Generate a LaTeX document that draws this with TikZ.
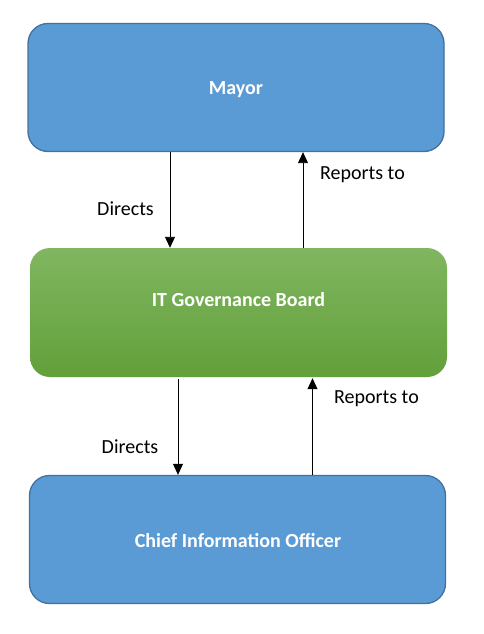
\documentclass[tikz,border=0pt]{standalone}
\usepackage{fontspec}
\setmainfont{Carlito}
\usetikzlibrary{arrows.meta}
\definecolor{boxblue}{HTML}{5B9BD5}
\definecolor{boxedge}{HTML}{41719C}
\definecolor{gtop}{HTML}{80B660}
\definecolor{gbot}{HTML}{62A03A}
\begin{document}
\begin{tikzpicture}[x=1pt,y=1pt,
  bluebox/.style={draw=boxedge,line width=1.3pt,fill=boxblue,rounded corners=20pt,
    minimum width=416pt,minimum height=128pt,inner sep=0pt},
  greenbox/.style={top color=gtop,bottom color=gbot,rounded corners=20pt,
    minimum width=417pt,minimum height=129pt,inner sep=0pt},
  boxtext/.style={text=white,font=\fontsize{20}{24}\selectfont\bfseries},
  arr/.style={line width=0.9pt,-{Triangle[length=11pt,width=10pt]}},
  lbl/.style={font=\fontsize{20}{24}\selectfont,text=black}]
\useasboundingbox (0,0) rectangle (483,-634);
\node[bluebox] (mayor) at (236,-87.5) {};
\node[boxtext] (mayortext) at (236,-90) {Mayor};
\node[greenbox] (board) at (238.5,-312.5) {};
\node[boxtext] (boardtext) at (238.5,-300) {IT Governance Board};
\node[bluebox] (cio) at (237.5,-539.5) {};
\node[boxtext] (ciotext) at (238,-540.5) {Chief Information Officer};
\coordinate (x1) at (170,0);
\coordinate (x2) at (303,0);
\coordinate (x3) at (178,0);
\coordinate (x4) at (312.5,0);
\draw[arr] (mayor.south -| x1) -- (board.north -| x1);
\draw[arr] (board.north -| x2) -- (mayor.south -| x2);
\draw[arr,shorten <=2pt] (board.south -| x3) -- (cio.north -| x3);
\draw[arr,shorten >=1pt] (cio.north -| x4) -- (board.south -| x4);
\node[lbl] (l1) at (125.5,-209) {Directs};
\node[lbl] (l2) at (362.5,-175) {Reports to};
\node[lbl] (l3) at (130,-447) {Directs};
\node[lbl] (l4) at (376.5,-399) {Reports to};
\end{tikzpicture}
\end{document}
